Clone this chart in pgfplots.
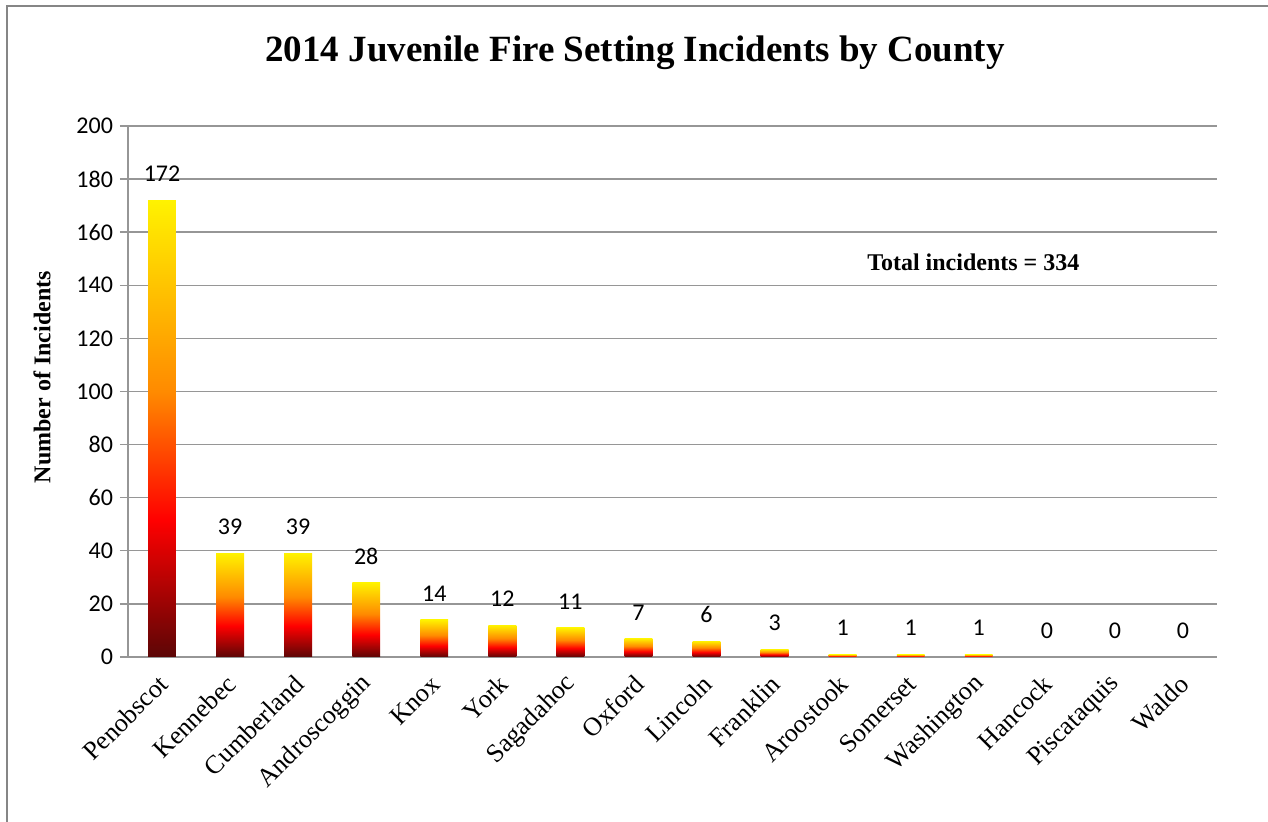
\documentclass[border=0pt]{standalone}
\usepackage{fontspec}
\setmainfont{Liberation Serif}
\newfontfamily\carlito{Carlito}
\usepackage{pgfplots}
\pgfplotsset{compat=1.18}

\definecolor{fireDark}{RGB}{92,6,6}
\definecolor{fireRed}{RGB}{255,0,0}
\definecolor{fireOrange}{RGB}{255,138,0}
\definecolor{fireYellow}{RGB}{255,242,0}
\definecolor{gridgray}{RGB}{150,150,150}
\definecolor{framegray}{RGB}{134,134,134}

% bar gradient: the bar spans 25bp..75bp of the shading
\pgfdeclareverticalshading{fire}{100bp}{color(0bp)=(fireDark); color(25bp)=(fireDark); color(40bp)=(fireRed); color(54bp)=(fireOrange); color(75bp)=(fireYellow); color(100bp)=(fireYellow)}

% one plot per bar so that every bar gets its own gradient
\pgfplotsset{firebar/.style={ybar, bar width=0.41, draw=none, shading=fire, forget plot}}

\begin{document}
\begin{tikzpicture}
\useasboundingbox (0,0) rectangle (634pt,411pt);
\draw[framegray, line width=1pt] (3.5pt,0) -- (3.5pt,408pt) -- (634pt,408pt);
\begin{axis}[
  at={(64pt,82.5pt)}, anchor=south west,
  scale only axis, width=544.5pt, height=265.5pt,
  xmin=-0.5, xmax=15.5, ymin=0, ymax=200,
  ytick distance=20,
  xtick={0,...,15},
  xticklabels={Penobscot,Kennebec,Cumberland,Androscoggin,Knox,York,Sagadahoc,Oxford,Lincoln,Franklin,Aroostook,Somerset,Washington,Hancock,Piscataquis,Waldo},
  axis x line*=bottom, axis y line*=left,
  axis line style={gridgray, line width=0.7pt},
  ymajorgrids, grid style={gridgray, line width=0.7pt},
  tick align=outside, major tick length=4pt,
  ytick style={gridgray, line width=0.7pt},
  xtick style={draw=none},
  /pgf/number format/assume math mode=true,
  yticklabel style={font=\carlito\fontsize{12}{14}\selectfont},
  xticklabel style={font=\fontsize{13}{15}\selectfont, xshift=3pt, yshift=-5pt, rotate=45, anchor=east},
  title={2014 Juvenile Fire Setting Incidents by County},
  title style={at={(axis description cs:0.4656,1.116)}, anchor=center, font=\bfseries\fontsize{18.5}{22}\selectfont},
  ylabel={Number of Incidents},
  ylabel style={at={(axis description cs:-0.079,0.527)}, anchor=center, font=\bfseries\fontsize{12}{14}\selectfont},
  clip=false,
]
\addplot[firebar] coordinates {(0,172)};
\addplot[firebar] coordinates {(1,39)};
\addplot[firebar] coordinates {(2,39)};
\addplot[firebar] coordinates {(3,28)};
\addplot[firebar] coordinates {(4,14)};
\addplot[firebar] coordinates {(5,12)};
\addplot[firebar] coordinates {(6,11)};
\addplot[firebar] coordinates {(7,7)};
\addplot[firebar] coordinates {(8,6)};
\addplot[firebar] coordinates {(9,3)};
\addplot[firebar] coordinates {(10,1)};
\addplot[firebar] coordinates {(11,1)};
\addplot[firebar] coordinates {(12,1)};
\addplot[only marks, mark=none, nodes near coords,
  nodes near coords style={font=\carlito\fontsize{12}{14}\selectfont, anchor=south, inner sep=0pt, yshift=9pt, text=black}] coordinates {
  (0,172) (1,39) (2,39) (3,28) (4,14) (5,12) (6,11) (7,7) (8,6) (9,3) (10,1) (11,1) (12,1) (13,0) (14,0) (15,0)
};
\node[font=\bfseries\fontsize{12}{14}\selectfont] at (axis cs:11.92,148.8) {Total incidents = 334};
\end{axis}
\end{tikzpicture}
\end{document}
